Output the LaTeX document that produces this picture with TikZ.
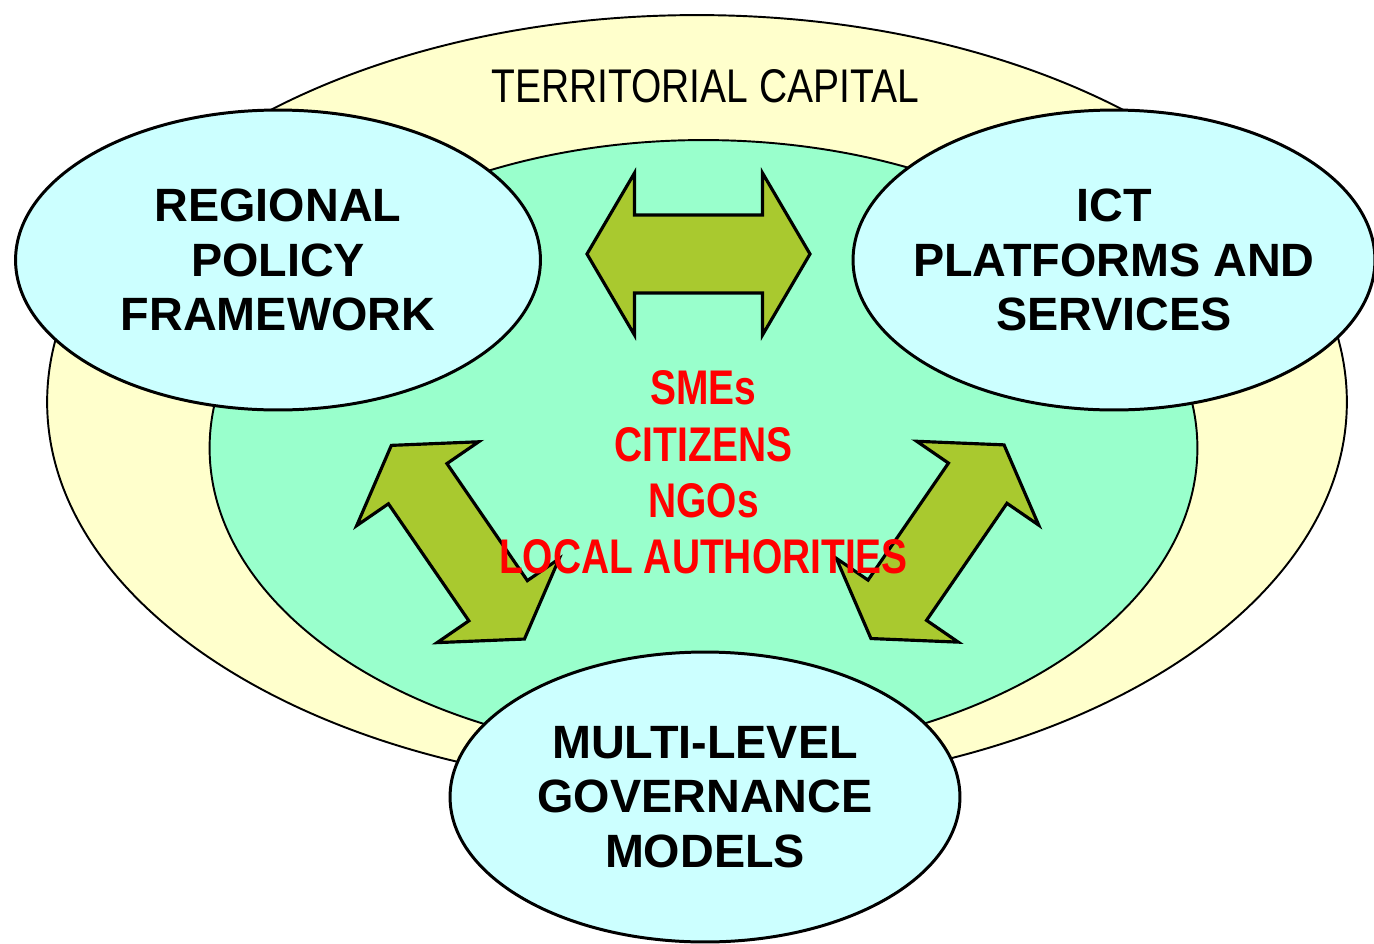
\documentclass[tikz,border=0pt]{standalone}
\usepackage{fontspec}
\setmainfont{Liberation Sans}
\newfontfamily\narrowfont[FakeStretch=0.8]{Liberation Sans}
\newfontfamily\captionfont[FakeStretch=0.825]{Liberation Sans}
\usetikzlibrary{shapes.geometric}
\definecolor{capitalyellow}{HTML}{FFFFCC}
\definecolor{actorgreen}{HTML}{99FFCC}
\definecolor{pillarcyan}{HTML}{CCFFFF}
\definecolor{arrowolive}{RGB}{169,201,47}
\tikzset{
  ring/.style={ellipse, draw, line width=1.1pt, inner sep=0pt},
  pillar/.style={ellipse, draw, line width=1.7pt, fill=pillarcyan, inner ysep=0pt, inner xsep=-2cm,
    align=center, font=\fontsize{26.6}{31.2}\selectfont\bfseries},
  blockarrow/.style={fill=arrowolive, draw=black, line width=1.8pt}
}
% centre, angle, half length, head length, head half width, shaft half width
\newcommand{\bigdblarrow}[6]{%
  \begin{scope}[shift={#1}, rotate=#2]
    \filldraw[blockarrow] (-#3,0) -- (-#3+#4,#5) -- (-#3+#4,#6) -- (#3-#4,#6) -- (#3-#4,#5) -- (#3,0)
      -- (#3-#4,-#5) -- (#3-#4,-#6) -- (-#3+#4,-#6) -- (-#3+#4,-#5) -- cycle;
  \end{scope}}
\begin{document}
\begin{tikzpicture}[x=0.02cm, y=-0.02cm]
  \useasboundingbox (0,0) rectangle (1374,944);
%% rings
  \node[ring, fill=capitalyellow, minimum width=26cm, minimum height=15.48cm] (territory) at (697,402) {};
  \node[ring, fill=actorgreen, minimum width=19.76cm, minimum height=12.32cm] (community) at (703.5,448) {};
%% the three pillars
  \node[pillar, minimum width=10.5cm, minimum height=6cm] (policy) at (278,260) {REGIONAL\\POLICY\\FRAMEWORK};
  \node[pillar, minimum width=10.44cm, minimum height=6cm] (ict) at (1114,260) {ICT\\PLATFORMS AND\\SERVICES};
  \node[pillar, minimum width=10.2cm, minimum height=5.8cm] (governance) at (705,797) {MULTI-LEVEL\\GOVERNANCE\\MODELS};
%% arrows
  \bigdblarrow{(698.5,254)}{0}{111.5}{47.5}{81}{39}
  \bigdblarrow{(457.9,542.2)}{-55.5}{117.5}{46.5}{74}{35.5}
  \bigdblarrow{(937.5,541.7)}{55.5}{117.5}{46.5}{74}{35.5}
%% labels
  \node[font=\captionfont\fontsize{26.9}{32}\selectfont] (capital) at (705,86.3) {TERRITORIAL CAPITAL};
  \node[font=\narrowfont\bfseries\fontsize{27.7}{32.1}\selectfont, text=red, align=center] (actors)
    at (703.5,472.5) {SMEs\\CITIZENS\\NGOs\\LOCAL AUTHORITIES};
\end{tikzpicture}
\end{document}
